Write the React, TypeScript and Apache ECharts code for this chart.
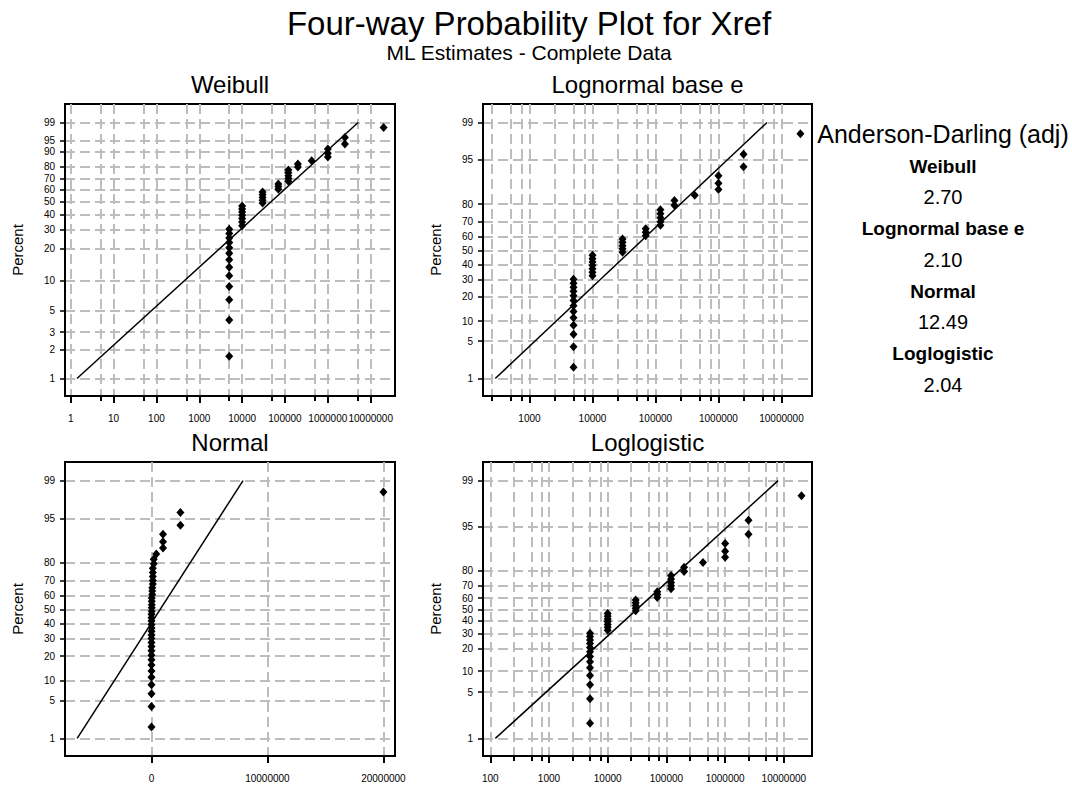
import React, { useEffect, useRef } from "react";
import * as echarts from "echarts";

// ---------- data ----------
const mainTitle = "Four-way Probability Plot for Xref";
const subTitle = "ML Estimates - Complete Data";
const panelTitles = ["Weibull", "Lognormal base e", "Normal", "Loglogistic"];

const failureValues = [
  5000, 5000, 5000, 5000, 5000, 5000, 5000, 5000, 5000, 5000, 5000, 5000, 5000,
  10000, 10000, 10000, 10000, 10000, 10000, 10000,
  30000, 30000, 30000, 30000, 30000,
  70000, 70000, 70000,
  120000, 120000, 120000, 120000, 120000,
  200000, 200000,
  420000,
  1000000, 1000000, 1000000,
  2500000, 2500000,
  20000000,
];
// plotted percent of each point
const percentValues = [
  1.7, 4.0, 6.4, 8.7, 11.1, 13.4, 15.8, 18.2, 20.5, 22.9, 25.2, 27.6, 30.0,
  32.3, 34.7, 37.0, 39.4, 41.7, 44.1, 46.5,
  48.8, 51.2, 53.5, 55.9, 58.3,
  60.6, 63.0, 65.3,
  67.7, 70.0, 72.4, 74.8, 77.1,
  79.5, 81.8,
  84.2,
  86.6, 88.9, 91.3,
  93.6, 96.0,
  98.3,
];

// fitted lines: [value, percent] end points
const weibullFit = [[1.4, 1], [5100000, 99]];
const lognormalFit = [[286, 1], [5900000, 99]];
const normalFit = [[-6400000, 1], [7900000, 99]];
const loglogisticFit = [[122, 1], [8000000, 99]];

// tick labels
const weibullPercentTicks = [1, 2, 3, 5, 10, 20, 30, 40, 50, 60, 70, 80, 90, 95, 99];
const probPercentTicks = [1, 5, 10, 20, 30, 40, 50, 60, 70, 80, 95, 99];
const weibullMajorX = [1, 10, 100, 1000, 10000, 100000, 1000000, 10000000];
const weibullMinorX = [5, 50, 500, 5000, 50000, 500000, 5000000];
const lognormalMajorX = [1000, 10000, 100000, 1000000, 10000000];
const lognormalMinorX = [250, 500, 750, 2500, 5000, 7500, 25000, 50000, 75000, 250000, 500000, 750000, 2500000, 5000000, 7500000];
const normalMajorX = [0, 10000000, 20000000];
const loglogisticMajorX = [100, 1000, 10000, 100000, 1000000, 10000000];
const loglogisticMinorX = [250, 500, 750, 2500, 5000, 7500, 25000, 50000, 75000, 250000, 500000, 750000, 2500000, 5000000, 7500000];

const adHeader = "Anderson-Darling (adj)";
const adMethods = ["Weibull", "Lognormal base e", "Normal", "Loglogistic"];
const adValues = ["2.70", "2.10", "12.49", "2.04"];

// ---------- scales ----------
function probit(p: number): number {
  const a = [-3.969683028665376e1, 2.209460984245205e2, -2.759285104469687e2, 1.38357751867269e2, -3.066479806614716e1, 2.506628277459239];
  const b = [-5.447609879822406e1, 1.615858368580409e2, -1.556989798598866e2, 6.680131188771972e1, -1.328068155288572e1];
  const c = [-7.784894002430293e-3, -3.223964580411365e-1, -2.400758277161838, -2.549732539343734, 4.374664141464968, 2.938163982698783];
  const d = [7.784695709041462e-3, 3.224671290700398e-1, 2.445134137142996, 3.754408661907416];
  const pl = 0.02425;
  if (p < pl) {
    const q = Math.sqrt(-2 * Math.log(p));
    return (((((c[0] * q + c[1]) * q + c[2]) * q + c[3]) * q + c[4]) * q + c[5]) / ((((d[0] * q + d[1]) * q + d[2]) * q + d[3]) * q + 1);
  }
  if (p <= 1 - pl) {
    const q = p - 0.5;
    const r = q * q;
    return ((((((a[0] * r + a[1]) * r + a[2]) * r + a[3]) * r + a[4]) * r + a[5]) * q) / (((((b[0] * r + b[1]) * r + b[2]) * r + b[3]) * r + b[4]) * r + 1);
  }
  const q = Math.sqrt(-2 * Math.log(1 - p));
  return -(((((c[0] * q + c[1]) * q + c[2]) * q + c[3]) * q + c[4]) * q + c[5]) / ((((d[0] * q + d[1]) * q + d[2]) * q + d[3]) * q + 1);
}
const tWeibull = (pct: number) => Math.log(-Math.log(1 - pct / 100));
const tNormal = (pct: number) => probit(pct / 100);
const tLogistic = (pct: number) => Math.log(pct / (100 - pct));
const ident = (v: number) => v;

const FONT = '"Liberation Sans", Arial, Helvetica, sans-serif';
const GRID_COLOR = "#bdbdbd";

type Panel = {
  title: string;
  box: { left: number; top: number; width: number; height: number };
  xMin: number;
  xMax: number;
  tx: (v: number) => number;
  majors: number[];
  minors: number[];
  yTicks: number[];
  ty: (p: number) => number;
  fit: number[][];
};

const panels: Panel[] = [
  {
    title: panelTitles[0],
    box: { left: 65, top: 104, width: 330, height: 292 },
    xMin: -0.133, xMax: 7.567, tx: Math.log10,
    majors: weibullMajorX, minors: weibullMinorX,
    yTicks: weibullPercentTicks, ty: tWeibull, fit: weibullFit,
  },
  {
    title: panelTitles[1],
    box: { left: 483, top: 104, width: 329, height: 292 },
    xMin: 2.262, xMax: 7.485, tx: Math.log10,
    majors: lognormalMajorX, minors: lognormalMinorX,
    yTicks: probPercentTicks, ty: tNormal, fit: lognormalFit,
  },
  {
    title: panelTitles[2],
    box: { left: 65, top: 462, width: 330, height: 294 },
    xMin: -7.45e6, xMax: 21.0e6, tx: ident,
    majors: normalMajorX, minors: [],
    yTicks: probPercentTicks, ty: tNormal, fit: normalFit,
  },
  {
    title: panelTitles[3],
    box: { left: 483, top: 462, width: 329, height: 294 },
    xMin: 1.876, xMax: 7.48, tx: Math.log10,
    majors: loglogisticMajorX, minors: loglogisticMinorX,
    yTicks: probPercentTicks, ty: tLogistic, fit: loglogisticFit,
  },
];

function buildOption() {
  const grids: any[] = [];
  const xAxes: any[] = [];
  const yAxes: any[] = [];
  const series: any[] = [];
  const titles: any[] = [
    { text: mainTitle, left: 529, top: 7, textAlign: "center", padding: 0,
      textStyle: { fontFamily: FONT, fontSize: 33, fontWeight: "normal", color: "#000" } },
    { text: subTitle, left: 529, top: 42, textAlign: "center", padding: 0,
      textStyle: { fontFamily: FONT, fontSize: 21, fontWeight: "normal", color: "#000" } },
  ];
  const splitLine = { show: true, lineStyle: { color: GRID_COLOR, width: 2, type: [10, 5] } };

  panels.forEach((pn, gi) => {
    const { left, top, width, height } = pn.box;
    grids.push({ left, top, width, height, show: true, borderColor: "#000", borderWidth: 2,
      backgroundColor: "#fff", containLabel: false, outerBoundsMode: "none" });
    titles.push({ text: pn.title, left: left + width / 2, top: top - 32, textAlign: "center", padding: 0,
      textStyle: { fontFamily: FONT, fontSize: 24, fontWeight: "normal", color: "#000" } });

    const isLog = pn.tx !== ident;
    const majorVals = pn.majors.map(pn.tx);
    const majorIdx = xAxes.length;
    xAxes.push({
      type: "value", gridIndex: gi, min: pn.xMin, max: pn.xMax, position: "bottom",
      axisLine: { show: true, onZero: false, lineStyle: { color: "#000", width: 2 } },
      axisTick: { show: true, inside: false, customValues: majorVals, length: 7, lineStyle: { color: "#000", width: 2 } },
      axisLabel: {
        show: true, customValues: majorVals, margin: 17, fontSize: 10, fontFamily: FONT, color: "#000", hideOverlap: false,
        formatter: (v: number) => String(Math.round(isLog ? Math.pow(10, v) : v)),
      },
      splitLine,
    });
    if (pn.minors.length) {
      const minorVals = pn.minors.map(pn.tx);
      xAxes.push({
        type: "value", gridIndex: gi, min: pn.xMin, max: pn.xMax, position: "bottom",
        axisLine: { show: true, onZero: false, lineStyle: { color: "#000", width: 2 } },
        axisTick: { show: true, inside: false, customValues: minorVals, length: 5, lineStyle: { color: "#000", width: 2 } },
        axisLabel: { show: false, customValues: minorVals },
        splitLine,
      });
    }
    const yVals = pn.yTicks.map(pn.ty);
    const t1 = pn.ty(1), t99 = pn.ty(99);
    const span = t99 - t1;
    yAxes.push({
      type: "value", gridIndex: gi, position: "left",
      min: t1 - span * (17.5 / 256.7), max: t99 + span * (18.5 / 256.7),
      axisLine: { show: true, onZero: false, lineStyle: { color: "#000", width: 2 } },
      axisTick: { show: true, inside: false, customValues: yVals, length: 5, lineStyle: { color: "#000", width: 1.5 } },
      axisLabel: {
        show: true, customValues: yVals, margin: 10, fontSize: 10, fontFamily: FONT, color: "#000", hideOverlap: false,
        formatter: (v: number) => {
          let best = 0;
          yVals.forEach((t, i) => { if (Math.abs(t - v) < Math.abs(yVals[best] - v)) best = i; });
          return String(pn.yTicks[best]);
        },
      },
      splitLine,
      name: "Percent", nameLocation: "middle", nameGap: 40,
      nameTextStyle: { fontFamily: FONT, fontSize: 15, color: "#000" },
    });

    series.push({
      type: "line", xAxisIndex: majorIdx, yAxisIndex: gi, silent: true, symbol: "none",
      lineStyle: { color: "#000", width: 1.5 },
      data: pn.fit.map(([x, p]) => [pn.tx(x), pn.ty(p)]),
      z: 3,
    });
    series.push({
      type: "scatter", xAxisIndex: majorIdx, yAxisIndex: gi, silent: true,
      symbol: "diamond", symbolSize: [8, 9], itemStyle: { color: "#000", opacity: 1 },
      data: failureValues.map((x, i) => [pn.tx(x), pn.ty(percentValues[i])]),
      z: 4,
    });
  });

  const graphic: any[] = [];
  const cx = 943;
  graphic.push({ type: "text", x: cx, y: 134, style: { text: adHeader, fontFamily: FONT, fontSize: 25, fill: "#000",
    textAlign: "center", textVerticalAlign: "middle", align: "center", verticalAlign: "middle" } });
  adMethods.forEach((m, i) => {
    graphic.push({ type: "text", x: cx, y: 166 + i * 62.5, style: { text: m, fontFamily: FONT, fontSize: 19, fontWeight: "bold", fill: "#000",
      textAlign: "center", textVerticalAlign: "middle", align: "center", verticalAlign: "middle" } });
    graphic.push({ type: "text", x: cx, y: 197 + i * 62.5, style: { text: adValues[i], fontFamily: FONT, fontSize: 20, fill: "#000",
      textAlign: "center", textVerticalAlign: "middle", align: "center", verticalAlign: "middle" } });
  });

  return {
    animation: false,
    backgroundColor: "#fff",
    title: titles,
    grid: grids,
    xAxis: xAxes,
    yAxis: yAxes,
    series,
    graphic,
  };
}

export default function App() {
  const ref = useRef<HTMLDivElement>(null);
  useEffect(() => {
    if (!ref.current) return;
    const chart = echarts.init(ref.current, undefined, { renderer: "svg" });
    chart.setOption(buildOption() as any);
    return () => chart.dispose();
  }, []);
  return (
    <div
      ref={ref}
      style={{ position: "absolute", left: 0, top: 0, width: 1072, height: 787, background: "#fff" }}
    />
  );
}
